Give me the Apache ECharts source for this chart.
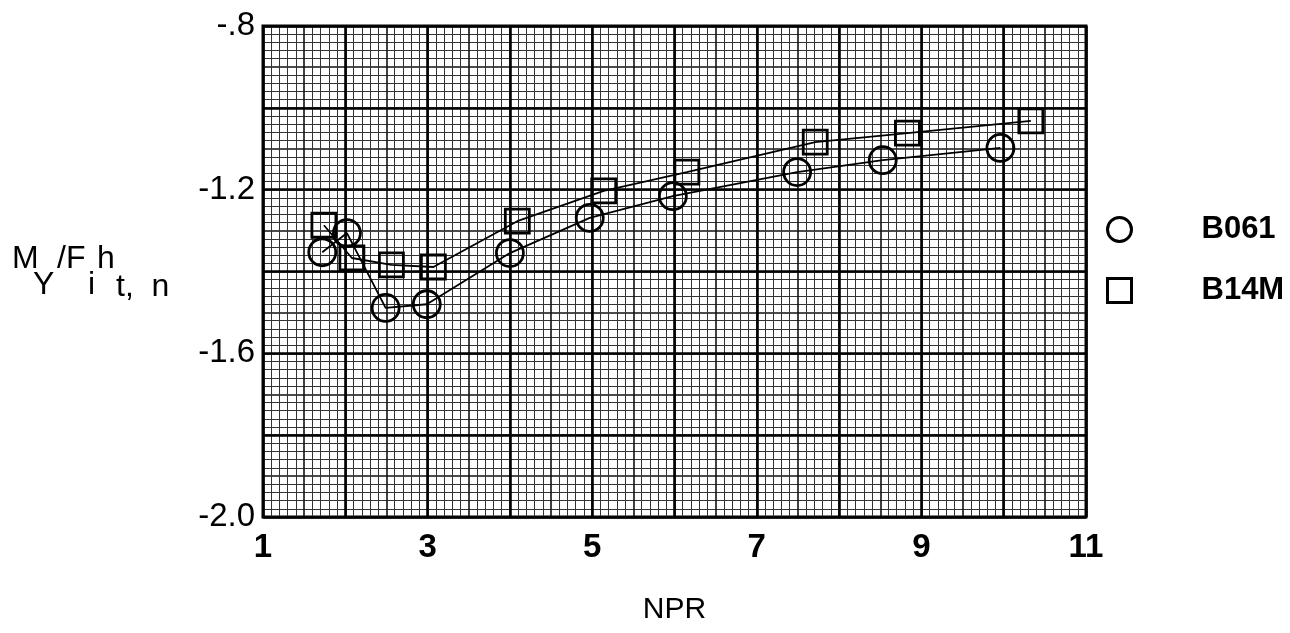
<!DOCTYPE html>
<html>
<head>
<meta charset="utf-8">
<script src="https://cdn.jsdelivr.net/npm/echarts@6/dist/echarts.min.js"></script>
<style>
  html, body { margin: 0; padding: 0; background: #fff; }
  #chart { width: 1290px; height: 633px; }
</style>
</head>
<body>
<div id="chart"></div>
<script>
// Yawing moment coefficient vs nozzle pressure ratio for two nozzle configurations
const nprB061 = [1.72, 2.02, 2.49, 2.99, 4.00, 4.97, 5.98, 7.49, 8.53, 9.96];
const myB061  = [-1.353, -1.306, -1.489, -1.480, -1.355, -1.269, -1.216, -1.157, -1.128, -1.098];
const nprB14M = [1.74, 2.08, 2.56, 3.07, 4.09, 5.14, 6.15, 7.71, 8.83, 10.33];
const myB14M  = [-1.287, -1.367, -1.384, -1.389, -1.277, -1.203, -1.157, -1.084, -1.062, -1.032];

const xTickValues = [1, 3, 5, 7, 9, 11];
const yTickValues = [-2.0, -1.6, -1.2, -0.8];
const yTickLabels = ['-2.0', '-1.6', '-1.2', '-.8'];
const seriesNames = ['B061', 'B14M'];

const boldFace = "'Liberation Sans', 'Arimo', sans-serif";
const plain = "'Liberation Sans', 'DejaVu Sans', sans-serif";

function pairs(xs, ys) { return xs.map((x, i) => [x, ys[i]]); }

const chart = echarts.init(document.getElementById('chart'), null, { renderer: 'canvas' });

const minorLine = { show: true, lineStyle: { color: '#333', width: 1 } };

function titlePiece(text, x, y) {
  return { type: 'text', x: x, y: y, style: { text: text, font: '32px ' + plain, fill: '#000', verticalAlign: 'middle' } };
}

chart.setOption({
  backgroundColor: '#fff',
  animation: false,
  grid: {
    left: 263, top: 26, right: 204, bottom: 116,
    show: true, borderColor: '#000', borderWidth: 3, backgroundColor: 'transparent'
  },
  xAxis: [
    {
      // graph paper: 0.1 minor rules, 0.5 medium rules
      type: 'value', min: 1, max: 11, interval: 0.5, position: 'top',
      axisLine: { show: false }, axisTick: { show: false }, axisLabel: { show: false },
      splitLine: { show: true, lineStyle: { color: '#111', width: 1.6 } },
      minorTick: { show: false, splitNumber: 5 },
      minorSplitLine: minorLine
    },
    {
      type: 'value', min: 1, max: 11, interval: 1, position: 'bottom', z: 2,
      axisLine: { show: false }, axisTick: { show: false },
      splitLine: { show: true, lineStyle: { color: '#000', width: 2.6 } },
      axisLabel: {
        margin: 14, color: '#000', fontFamily: boldFace, fontWeight: 'bold', fontSize: 33,
        formatter: v => (xTickValues.indexOf(Math.round(v)) >= 0 && Math.abs(v - Math.round(v)) < 1e-6) ? String(Math.round(v)) : ''
      },
      name: 'NPR', nameLocation: 'middle', nameGap: 78,
      nameTextStyle: { color: '#000', fontFamily: plain, fontSize: 30 }
    }
  ],
  yAxis: [
    {
      // 0.02 minor rules, 0.1 medium rules
      type: 'value', min: -2.0, max: -0.8, interval: 0.1, position: 'right',
      axisLine: { show: false }, axisTick: { show: false }, axisLabel: { show: false },
      splitLine: { show: true, lineStyle: { color: '#111', width: 1.6 } },
      minorTick: { show: false, splitNumber: 5 },
      minorSplitLine: minorLine
    },
    {
      type: 'value', min: -2.0, max: -0.8, interval: 0.2, position: 'left', z: 2,
      axisLine: { show: false }, axisTick: { show: false },
      splitLine: { show: true, lineStyle: { color: '#000', width: 2.6 } },
      axisLabel: {
        margin: 8, color: '#000', fontFamily: plain, fontSize: 33,
        formatter: v => {
          const i = yTickValues.findIndex(t => Math.abs(t - v) < 1e-6);
          return i >= 0 ? yTickLabels[i] : '';
        }
      }
    }
  ],
  legend: {
    orient: 'vertical', left: 1106, top: 214, padding: 0,
    itemWidth: 24, itemHeight: 24, itemGap: 30,
    selectedMode: false,
    data: [
      { name: seriesNames[0], icon: 'circle' },
      { name: seriesNames[1], icon: 'rect' }
    ],
    itemStyle: { color: 'transparent', borderColor: '#000', borderWidth: 3 },
    formatter: name => '{s|}{n|' + name + '}',
    textStyle: {
      rich: {
        s: { width: 65 },
        n: { color: '#000', fontFamily: boldFace, fontWeight: 'bold', fontSize: 31 }
      }
    }
  },
  series: [
    {
      name: seriesNames[0], type: 'line', xAxisIndex: 1, yAxisIndex: 1, z: 5,
      data: pairs(nprB061, myB061),
      symbol: 'circle', symbolSize: 27,
      lineStyle: { color: '#000', width: 1.8 },
      itemStyle: { color: 'transparent', borderColor: '#000', borderWidth: 2.8 }
    },
    {
      name: seriesNames[1], type: 'line', xAxisIndex: 1, yAxisIndex: 1, z: 5,
      data: pairs(nprB14M, myB14M),
      symbol: 'rect', symbolSize: 24,
      lineStyle: { color: '#000', width: 1.8 },
      itemStyle: { color: 'transparent', borderColor: '#000', borderWidth: 2.8 }
    }
  ],
  graphic: [
    // y-axis title: M_Y / F_i h_t,n
    titlePiece('M', 12, 259),
    titlePiece('Y', 33, 285),
    titlePiece('/F', 57, 259),
    titlePiece('i', 88, 285),
    titlePiece('h', 97, 259),
    titlePiece('t,  n', 116, 287)
  ]
});
</script>
</body>
</html>
